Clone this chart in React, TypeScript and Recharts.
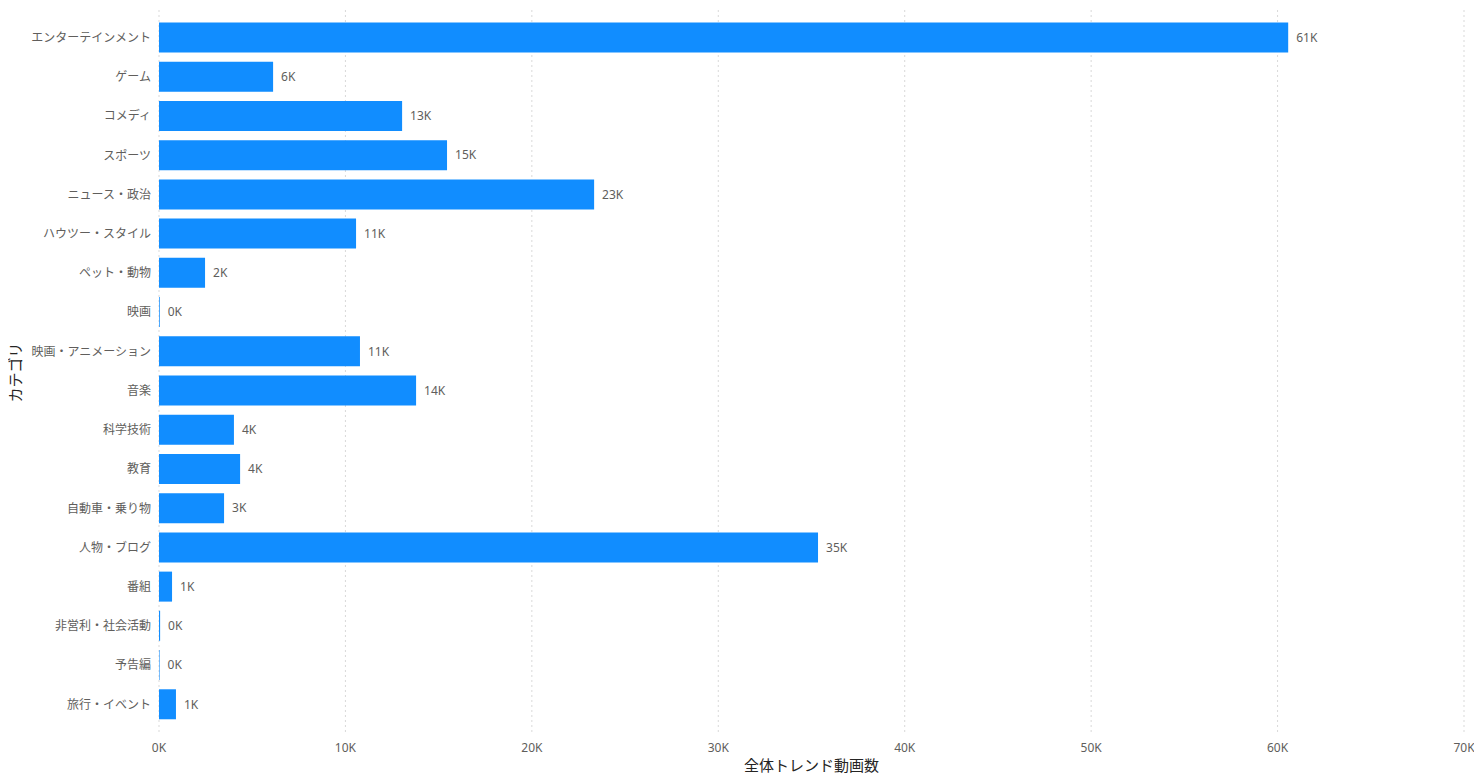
import { BarChart, Bar, XAxis, YAxis, CartesianGrid, LabelList } from "recharts";

const CATEGORIES = [
  "エンターテインメント",
  "ゲーム",
  "コメディ",
  "スポーツ",
  "ニュース・政治",
  "ハウツー・スタイル",
  "ペット・動物",
  "映画",
  "映画・アニメーション",
  "音楽",
  "科学技術",
  "教育",
  "自動車・乗り物",
  "人物・ブログ",
  "番組",
  "非営利・社会活動",
  "予告編",
  "旅行・イベント",
];

const VIDEO_COUNTS = [
  60570, 6120, 13040, 15450, 23340, 10570, 2470, 40, 10780, 13790, 4020, 4350,
  3490, 35350, 700, 60, 30, 910,
];

const X_TICKS = [0, 10000, 20000, 30000, 40000, 50000, 60000, 70000];

const FONT = "'Noto Sans', 'Noto Sans CJK JP', sans-serif";
const TEXT_GRAY = "#605E5C";
const TITLE_COLOR = "#252423";

const fmtK = (v: number) => `${Math.round(Number(v) / 1000)}K`;

export default function App() {
  const data = CATEGORIES.map((name, i) => ({ name, count: VIDEO_COUNTS[i] }));

  return (
    <div
      style={{
        margin: -8,
        width: 1482,
        height: 781,
        background: "#fff",
        borderBottom: "2px solid #cfcfcf",
        borderBottomLeftRadius: 8,
        borderBottomRightRadius: 8,
        fontFamily: FONT,
        overflow: "hidden",
      }}
    >
      <BarChart
        width={1482}
        height={779}
        data={data}
        layout="vertical"
        margin={{ top: 10, right: 18, left: 0, bottom: 0 }}
        barCategoryGap={4.5}
      >
        <CartesianGrid
          horizontal={false}
          strokeDasharray="2 3"
          stroke="#d9d9d9"
        />
        <XAxis
          type="number"
          domain={[0, 70000]}
          ticks={X_TICKS}
          tickFormatter={fmtK}
          axisLine={false}
          tickLine={false}
          height={44}
          tick={{ fontSize: 12, fill: TEXT_GRAY, fontFamily: FONT }}
          label={{
            value: "全体トレンド動画数",
            position: "insideBottom",
            offset: 8,
            style: { fontSize: 15, fill: TITLE_COLOR, fontFamily: FONT },
          }}
        />
        <YAxis
          type="category"
          dataKey="name"
          width={159}
          axisLine={false}
          tickLine={false}
          interval={0}
          padding={{ top: 8, bottom: 11 }}
          tick={{ fontSize: 12, fill: TEXT_GRAY, fontFamily: FONT }}
          label={{
            value: "カテゴリ",
            angle: -90,
            position: "insideLeft",
            offset: 16,
            style: { fontSize: 15, fill: TITLE_COLOR, fontFamily: FONT, textAnchor: "middle" },
          }}
        />
        <Bar dataKey="count" fill="#118DFF" isAnimationActive={false}>
          <LabelList
            dataKey="count"
            position="right"
            offset={8}
            formatter={fmtK}
            style={{ fontSize: 12, fill: TEXT_GRAY, fontFamily: FONT }}
          />
        </Bar>
      </BarChart>
    </div>
  );
}
